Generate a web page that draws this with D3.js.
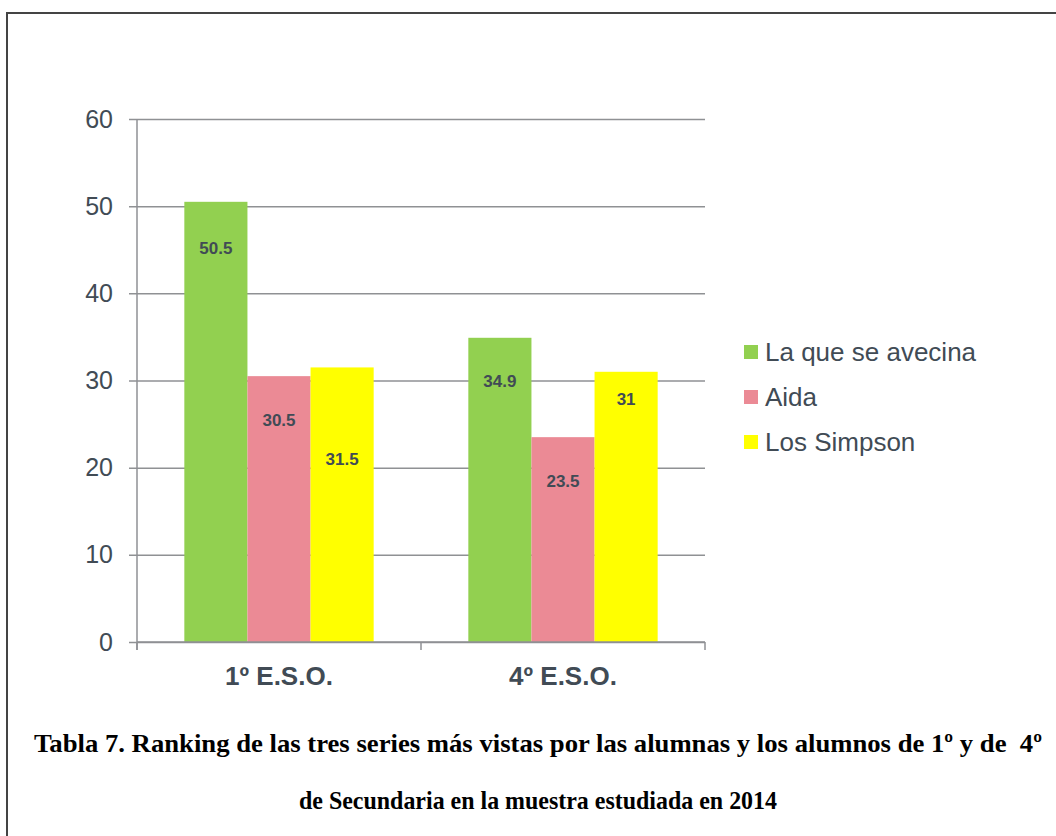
<!DOCTYPE html>
<meta charset="utf-8">
<style>
body { margin: 0; background: #fff; }
.axis .domain { display: none; }
</style>
<svg width="1056" height="836"></svg>
<script src="https://cdnjs.cloudflare.com/ajax/libs/d3/7.8.5/d3.min.js"></script>
<script>

var categories = ["1º E.S.O.", "4º E.S.O."];
var series = ["La que se avecina", "Aida", "Los Simpson"];
var laQueSeAvecina = [50.5, 34.9];
var aida = [30.5, 23.5];
var losSimpson = [31.5, 31];
var yTicks = [0, 10, 20, 30, 40, 50, 60];
var caption = [
  "Tabla 7. Ranking de las tres series más vistas por las alumnas y los alumnos de 1º y de  4º",
  "de Secundaria en la muestra estudiada en 2014"
];

var colors = ["#92d050", "#eb8a95", "#ffff00"];
var textColor = "#414b55";
var gridColor = "#8f9194";

var values = [laQueSeAvecina, aida, losSimpson];
var data = categories.map(function(c, i) {
  return {category: c, values: series.map(function(s, j) { return {key: s, value: values[j][i]}; })};
});

var svg = d3.select("svg");

// outer frame (only top and left edges show)
svg.append("path")
    .attr("d", "M7,840V13H1060")
    .attr("fill", "none")
    .attr("stroke", "#444")
    .attr("stroke-width", 2);

var plotLeft = 137, plotRight = 705, plotTop = 119, plotBottom = 642;

var x0 = d3.scaleBand()
    .domain(categories)
    .range([plotLeft, plotRight])
    .paddingInner(1 / 3)
    .paddingOuter(1 / 6);

var x1 = d3.scaleBand()
    .domain(series)
    .range([0, x0.bandwidth()]);

var y = d3.scaleLinear()
    .domain([0, 60])
    .range([plotBottom, plotTop]);

// grid + y axis
var yAxis = svg.append("g")
    .attr("class", "axis")
    .attr("transform", "translate(" + plotLeft + ",0)")
    .call(d3.axisLeft(y).tickValues(yTicks).tickSize(-(plotRight - plotLeft)).tickPadding(24));

yAxis.selectAll(".tick line")
    .attr("x1", -8)
    .attr("stroke", gridColor)
    .attr("stroke-width", 1.5);

yAxis.selectAll(".tick text")
    .attr("fill", textColor)
    .attr("font-family", "Liberation Sans, Arial, sans-serif")
    .attr("font-size", 25);

svg.append("line")
    .attr("x1", plotLeft).attr("x2", plotLeft)
    .attr("y1", plotTop).attr("y2", plotBottom + 8)
    .attr("stroke", gridColor)
    .attr("stroke-width", 1.5);

// bars
var groups = svg.append("g")
  .selectAll("g")
  .data(data)
  .enter().append("g")
    .attr("transform", function(d) { return "translate(" + x0(d.category) + ",0)"; });

groups.selectAll("rect")
  .data(function(d) { return d.values; })
  .enter().append("rect")
    .attr("x", function(d) { return x1(d.key); })
    .attr("y", function(d) { return y(d.value); })
    .attr("width", x1.bandwidth())
    .attr("height", function(d) { return plotBottom - y(d.value); })
    .attr("fill", function(d, i) { return colors[i]; });

// value labels, nudged below bar tops like the original
var labelDrop = [[46, 44, 92], [43, 44, 27]];

groups.each(function(d, gi) {
  d3.select(this).selectAll("text")
    .data(d.values)
    .enter().append("text")
      .attr("x", function(v) { return x1(v.key) + x1.bandwidth() / 2; })
      .attr("y", function(v, i) { return y(v.value) + labelDrop[gi][i]; })
      .attr("dy", "0.35em")
      .attr("text-anchor", "middle")
      .attr("fill", textColor)
      .attr("font-family", "Liberation Sans, Arial, sans-serif")
      .attr("font-weight", "bold")
      .attr("font-size", 17)
      .text(function(v) { return v.value; });
});

// x axis
var xAxis = svg.append("g")
    .attr("transform", "translate(0," + plotBottom + ")");

xAxis.append("line")
    .attr("x1", plotLeft).attr("x2", plotRight)
    .attr("stroke", gridColor)
    .attr("stroke-width", 1.5);

var step = x0.step();
var xTicks = d3.range(categories.length + 1).map(function(i) { return plotLeft + i * step; });

xAxis.selectAll(".xt")
  .data(xTicks)
  .enter().append("line")
    .attr("class", "xt")
    .attr("x1", function(d) { return d; })
    .attr("x2", function(d) { return d; })
    .attr("y2", 8)
    .attr("stroke", gridColor)
    .attr("stroke-width", 1.5);

xAxis.selectAll(".xl")
  .data(categories)
  .enter().append("text")
    .attr("class", "xl")
    .attr("x", function(d) { return x0(d) + x0.bandwidth() / 2; })
    .attr("y", 34)
    .attr("dy", "0.35em")
    .attr("text-anchor", "middle")
    .attr("fill", textColor)
    .attr("font-family", "Liberation Sans, Arial, sans-serif")
    .attr("font-weight", "bold")
    .attr("font-size", 26)
    .text(function(d) { return d; });

// legend
var legend = svg.append("g")
  .selectAll("g")
  .data(series)
  .enter().append("g")
    .attr("transform", function(d, i) { return "translate(744," + (352 + i * 45) + ")"; });

legend.append("rect")
    .attr("y", -7)
    .attr("width", 14)
    .attr("height", 14)
    .attr("fill", function(d, i) { return colors[i]; });

legend.append("text")
    .attr("x", 21)
    .attr("dy", "0.35em")
    .attr("fill", textColor)
    .attr("font-family", "Liberation Sans, Arial, sans-serif")
    .attr("font-size", 26)
    .text(function(d) { return d; });

// caption
svg.selectAll(".cap")
  .data(caption)
  .enter().append("text")
    .attr("class", "cap")
    .attr("x", 538)
    .attr("y", function(d, i) { return 752 + i * 57; })
    .attr("text-anchor", "middle")
    .attr("xml:space", "preserve")
    .attr("font-family", "Liberation Serif, Times New Roman, serif")
    .attr("font-weight", "bold")
    .attr("font-size", 26)
    .attr("textLength", function(d, i) { return i === 0 ? 1008 : 478; })
    .attr("lengthAdjust", "spacingAndGlyphs")
    .text(function(d) { return d; });

</script>
